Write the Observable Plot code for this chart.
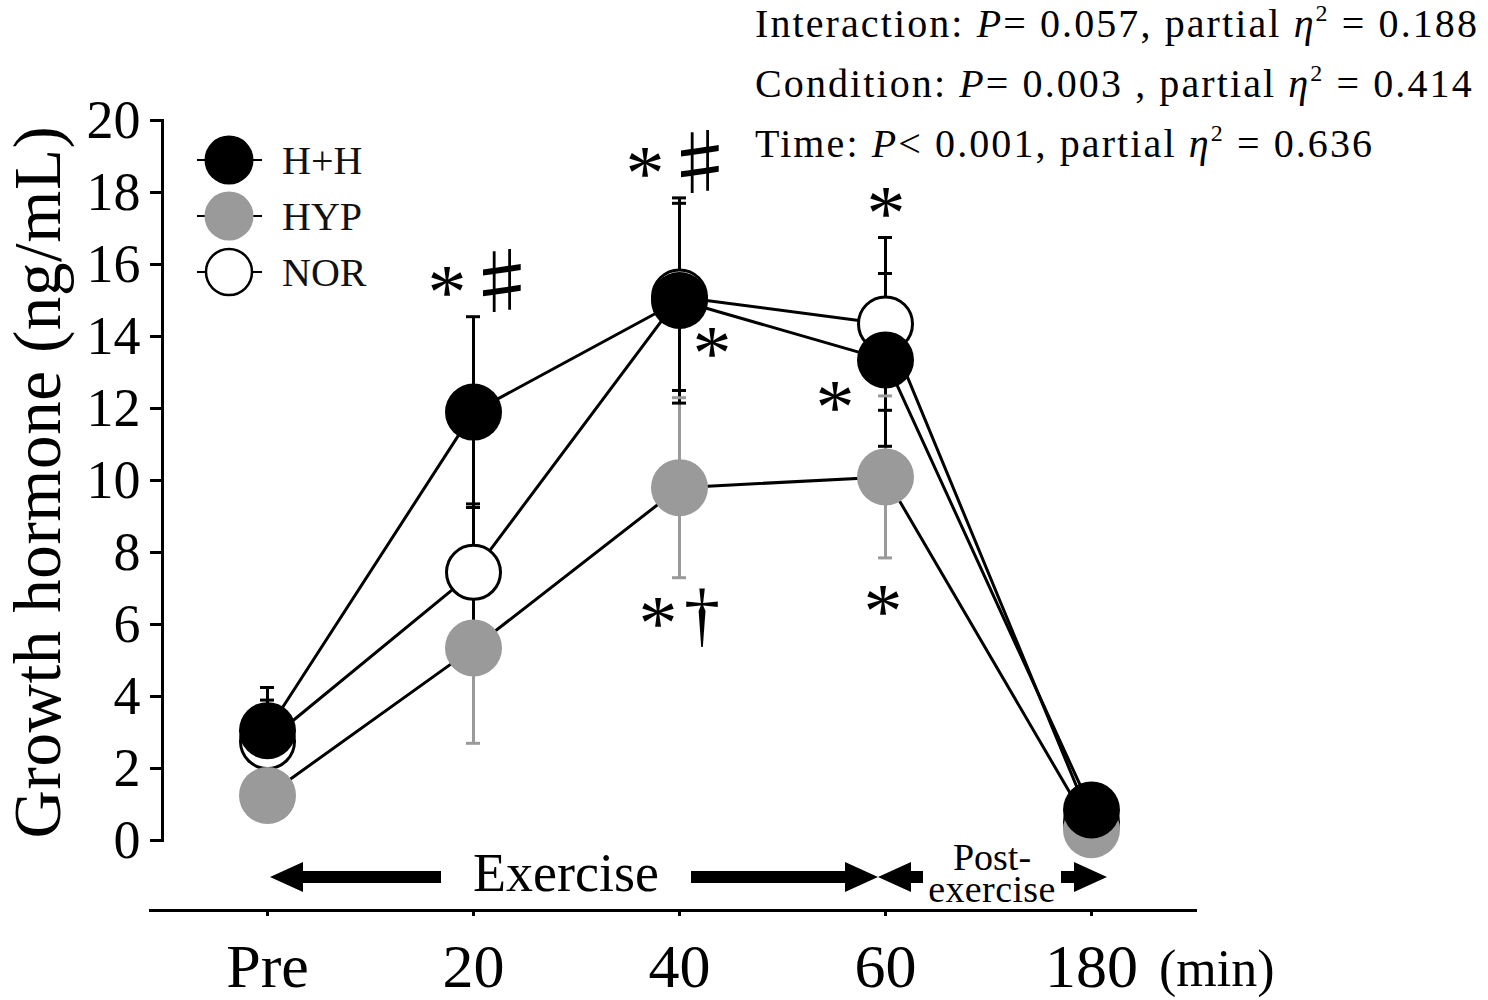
<!DOCTYPE html>
<html><head><meta charset="utf-8">
<script src="https://cdn.jsdelivr.net/npm/d3@7"></script>
<script src="https://cdn.jsdelivr.net/npm/@observablehq/plot@0.6"></script>
<style>
body{margin:0;background:#fff;}
#chart{position:relative;width:1488px;height:1000px;}
#chart svg{font-family:"Liberation Serif","Times New Roman",serif;}
</style></head><body><div id="chart"></div>
<script>
// ---- data ----
const categories = ["Pre", "20", "40", "60", "180"];
const seriesNames = ["H+H", "HYP", "NOR"];
const hhMean  = [3.05, 11.9, 15.0, 13.35, 0.85];
const hhSD    = [1.2, 2.65, 2.85, 2.4, 0.3];
const hypMean = [1.25, 5.35, 9.8, 10.1, 0.3];
const hypSD   = [0.5, 2.65, 2.5, 2.25, 0.2];
const norMean = [2.75, 7.45, 15.1, 14.35, 0.5];
const norSD   = [1.15, 1.9, 2.6, 2.4, 0.3];
const yTicks  = [0, 2, 4, 6, 8, 10, 12, 14, 16, 18, 20];
const yLabel  = "Growth hormone (ng/mL)";
const xUnit   = "(min)";
const statNames = ["Interaction", "Condition", "Time"];
const statP     = ["= 0.057,", "= 0.003 ,", "< 0.001,"];
const statEta   = ["0.188", "0.414", "0.636"];
const annTime = ["20", "20", "40", "40", "40", "40", "40", "60", "60", "60"];
const annY    = [15.5, 15.5, 18.8, 18.8, 13.8, 6.3, 6.3, 17.7, 12.3, 6.65];
const annText = ["*", "♯", "*", "♯", "*", "*", "†", "*", "*", "*"];
const phaseLabels = [["Exercise"], ["Post-", "exercise"]];
const phaseFrom = ["Pre", "60"];
const phaseTo   = ["60", "180"];

// ---- styles ----
const fillOf = {"H+H": "#000", "HYP": "#9a9a9a", "NOR": "#fff"};
const barColor = {"H+H": "#000", "HYP": "#9a9a9a", "NOR": "#000"};
const annDx = [-26, 29, -34, 21, 33, -21, 23, 1, -50, -2];

const means = [hhMean, hypMean, norMean];
const sds = [hhSD, hypSD, norSD];
const rows = [];
seriesNames.forEach((s, si) => categories.forEach((c, i) =>
  rows.push({series: s, time: c, mean: means[si][i], sd: sds[si][i]})));
const bySeries = order => order.flatMap(s => rows.filter(r => r.series === s));
const barRows = bySeries(["HYP", "NOR", "H+H"]);
const anns = annText.map((t, i) => ({time: annTime[i], y: annY[i], text: t, dx: annDx[i]}));

const dotMark = s => Plot.dot(rows.filter(r => r.series === s), {
  x: "time", y: "mean", r: s === "NOR" ? 27 : 28.5, fill: fillOf[s],
  stroke: s === "NOR" ? "#000" : "none", strokeWidth: 3
});

const plot = Plot.plot({
  width: 1488, height: 1000,
  marginTop: 120, marginBottom: 90, marginLeft: 162, marginRight: 293,
  style: {fontFamily: "Liberation Serif, Times New Roman, serif", background: "#fff", color: "#000"},
  x: {type: "point", domain: categories, padding: 0.5, label: null},
  y: {domain: [0, 20], range: [840, 120], label: null},
  color: {type: "identity"},
  marks: [
    Plot.axisY({ticks: yTicks, tickSize: 12, tickPadding: 10, fontSize: 54, strokeWidth: 3, label: null}),
    Plot.axisX({tickSize: 6, tickPadding: 26, fontSize: 62, strokeWidth: 3, label: null}),
    Plot.frame({anchor: "left", insetBottom: 70, strokeWidth: 3}),
    Plot.frame({anchor: "bottom", insetLeft: -12, strokeWidth: 3}),
    Plot.line(rows, {x: "time", y: "mean", z: "series", stroke: "#000", strokeWidth: 3}),
    Plot.ruleX(barRows, {x: "time", y1: d => d.mean - d.sd, y2: d => d.mean + d.sd, stroke: d => barColor[d.series], strokeWidth: 3}),
    Plot.ruleY(barRows, {y: d => d.mean + d.sd, x1: "time", x2: "time", insetLeft: -7, insetRight: -7, stroke: d => barColor[d.series], strokeWidth: 3}),
    Plot.ruleY(barRows, {y: d => d.mean - d.sd, x1: "time", x2: "time", insetLeft: -7, insetRight: -7, stroke: d => barColor[d.series], strokeWidth: 3}),
    dotMark("NOR"),
    dotMark("HYP"),
    dotMark("H+H")
  ]
});
document.getElementById("chart").appendChild(plot);

const svg = d3.select(plot);
const xs = plot.scale("x"), ys = plot.scale("y");
const X = v => xs.apply(v), Y = v => ys.apply(v);

// annotations (per-item horizontal offsets)
const annG = svg.append("g").attr("fill", "#000").attr("text-anchor", "middle");
anns.forEach(a => {
  const t = annG.append("text").attr("x", X(a.time) + a.dx).attr("y", Y(a.y)).text(a.text);
  if (a.text === "*") t.attr("font-size", 78).attr("dy", 36);
  else if (a.text === "♯") t.attr("font-size", 72).attr("font-family", "Noto Sans CJK JP").attr("dy", 26);
  else t.attr("font-size", 72).attr("dy", 26);
});

// legend
const legG = svg.append("g").attr("text-anchor", "start");
seriesNames.forEach((s, i) => {
  const cy = 160 + i * 56;
  legG.append("line").attr("x1", 197).attr("x2", 262).attr("y1", cy).attr("y2", cy).attr("stroke", "#000").attr("stroke-width", 2);
  legG.append("circle").attr("cx", 229).attr("cy", cy).attr("r", s === "NOR" ? 23 : 24.5)
    .attr("fill", fillOf[s]).attr("stroke", s === "NOR" ? "#000" : "none").attr("stroke-width", 2.5);
  legG.append("text").attr("x", 282).attr("y", cy).attr("dy", "0.35em").attr("font-size", 40).attr("fill", "#111").text(s);
});

// y-axis title
svg.append("text").attr("transform", "translate(60,482) rotate(-90)").attr("text-anchor", "middle")
  .attr("font-size", 67).attr("letter-spacing", 0.6).attr("fill", "#000").text(yLabel);

// x unit
svg.append("text").attr("x", X("180") + 68).attr("y", 986).attr("text-anchor", "start")
  .attr("font-size", 52).attr("fill", "#000").text(xUnit);

// phase arrows
const arrowY = 877;
function arrow(tail, tip) {
  const dir = Math.sign(tip - tail), hl = 33, hh = 15, sh = 6;
  const base = tip - dir * hl;
  const p = `M${tail},${arrowY - sh}L${base},${arrowY - sh}L${base},${arrowY - hh}L${tip},${arrowY}L${base},${arrowY + hh}L${base},${arrowY + sh}L${tail},${arrowY + sh}Z`;
  svg.append("path").attr("d", p).attr("fill", "#000");
}
const phaseCfg = [
  {shift: -10, gap: 125, tipL: 3, tipR: -7, fs: 54, base: [891]},
  {shift: 4, gap: 69, tipL: -7, tipR: 16, fs: 38, base: [870, 902]}
];
phaseLabels.forEach((lab, i) => {
  const c = phaseCfg[i];
  const a = X(phaseFrom[i]), b = X(phaseTo[i]), mid = (a + b) / 2 + c.shift;
  arrow(mid - c.gap, a + c.tipL);
  arrow(mid + c.gap, b + c.tipR);
  lab.forEach((l, j) => svg.append("text").attr("x", mid).attr("y", c.base[j]).attr("text-anchor", "middle")
    .attr("font-size", c.fs).attr("letter-spacing", j === 1 ? 0.4 : 0).attr("fill", "#000").text(l));
});

// stats text
statNames.forEach((n, i) => {
  const t = svg.append("text").attr("x", 755).attr("y", 37 + i * 60).attr("text-anchor", "start")
    .attr("font-size", 40).attr("letter-spacing", 2.1).attr("fill", "#000");
  t.append("tspan").text(n + ": ");
  t.append("tspan").attr("font-style", "italic").text("P");
  t.append("tspan").text(statP[i] + " partial ");
  t.append("tspan").attr("font-style", "italic").text("η");
  t.append("tspan").attr("font-size", 24).attr("dy", -16).text("2");
  t.append("tspan").attr("dy", 16).text(" = " + statEta[i]);
});
</script></body></html>
